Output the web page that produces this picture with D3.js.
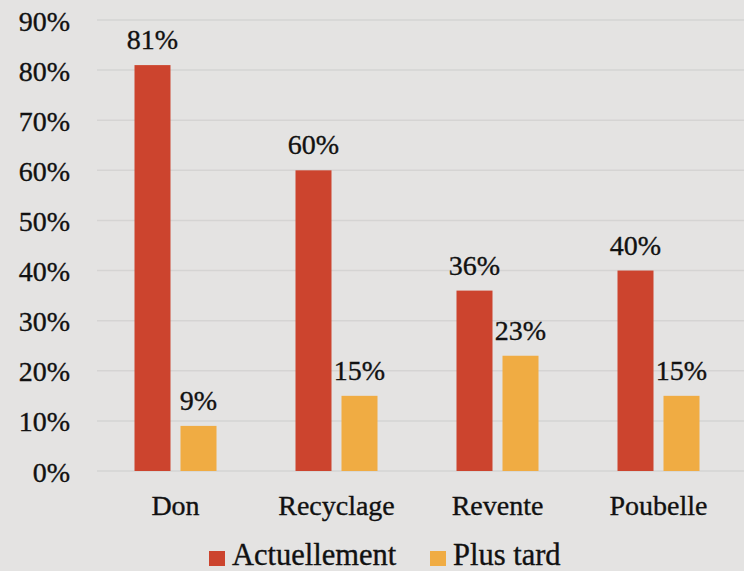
<!DOCTYPE html>
<html><head><meta charset="utf-8">
<script src="https://cdn.jsdelivr.net/npm/d3@7"></script>
<style>
html,body{margin:0;padding:0;background:#e4e3e2;}
svg{display:block;}
text{font-family:"Liberation Serif","DejaVu Serif",serif;fill:#111;stroke:#111;stroke-width:0.35px;}
</style></head>
<body>
<svg id="chart" width="744" height="571"></svg>
<script>
const categories = ["Don", "Recyclage", "Revente", "Poubelle"];
const seriesNames = ["Actuellement", "Plus tard"];
const actuellement = [81, 60, 36, 40];
const plusTard = [9, 15, 23, 15];
const yTicks = [0, 10, 20, 30, 40, 50, 60, 70, 80, 90];
const colors = ["#cc442e", "#f0ac43"];

const svg = d3.select("#chart");
const W = 744, H = 571;
svg.append("rect").attr("width", W).attr("height", H).attr("fill", "#e4e3e2");

const x = d3.scaleBand().domain(categories).range([95, 739]).paddingInner(0).paddingOuter(0);
const y = d3.scaleLinear().domain([0, 90]).range([471, 20]);
const xs = d3.scaleBand().domain(seriesNames).range([0, 82]).paddingInner(10 / 46);

// gridlines
svg.append("g").selectAll("line").data(yTicks).join("line")
  .attr("x1", 97).attr("x2", W).attr("y1", d => y(d)).attr("y2", d => y(d))
  .attr("stroke", "#d5d4d3").attr("stroke-width", 1.5);

// y axis labels
const yAxis = d3.axisLeft(y).tickValues(yTicks).tickFormat(d => d + "%").tickSize(0).tickPadding(0);
const ya = svg.append("g").attr("transform", "translate(70,0)").call(yAxis);
ya.select(".domain").remove();
ya.selectAll("text").attr("font-size", 28).attr("font-family", null).attr("fill", "#111").attr("dy", "0.36em");

// x axis labels
const xAxis = d3.axisBottom(x).tickSize(0).tickPadding(0);
const xa = svg.append("g").attr("transform", "translate(0,515)").call(xAxis);
xa.select(".domain").remove();
xa.selectAll("text").attr("font-size", 28).attr("font-family", null).attr("fill", "#111").attr("dy", 0).attr("y", 0);

const data = categories.map((c, i) => ({cat: c, vals: [actuellement[i], plusTard[i]]}));
const groups = svg.append("g").selectAll("g").data(data).join("g")
  .attr("transform", d => `translate(${x(d.cat) + (x.bandwidth() - 82) / 2},0)`);
groups.selectAll("rect").data(d => d.vals.map((v, j) => ({s: seriesNames[j], v, j}))).join("rect")
  .attr("x", d => xs(d.s)).attr("width", xs.bandwidth())
  .attr("y", d => y(d.v)).attr("height", d => y(0) - y(d.v))
  .attr("fill", d => colors[d.j]);
groups.selectAll("text").data(d => d.vals.map((v, j) => ({s: seriesNames[j], v, j}))).join("text")
  .attr("x", d => xs(d.s) + xs.bandwidth() / 2).attr("y", d => y(d.v) - 16)
  .attr("text-anchor", "middle").attr("font-size", 28).text(d => d.v + "%");

// legend
const legendX = [209, 430];
const lg = svg.append("g").selectAll("g").data(seriesNames).join("g")
  .attr("transform", (d, i) => `translate(${legendX[i]},551)`);
lg.append("rect").attr("width", 16).attr("height", 15).attr("fill", (d, i) => colors[i]);
lg.append("text").attr("x", 23).attr("y", 14).attr("font-size", 30.5).text(d => d);
</script>
</body></html>
